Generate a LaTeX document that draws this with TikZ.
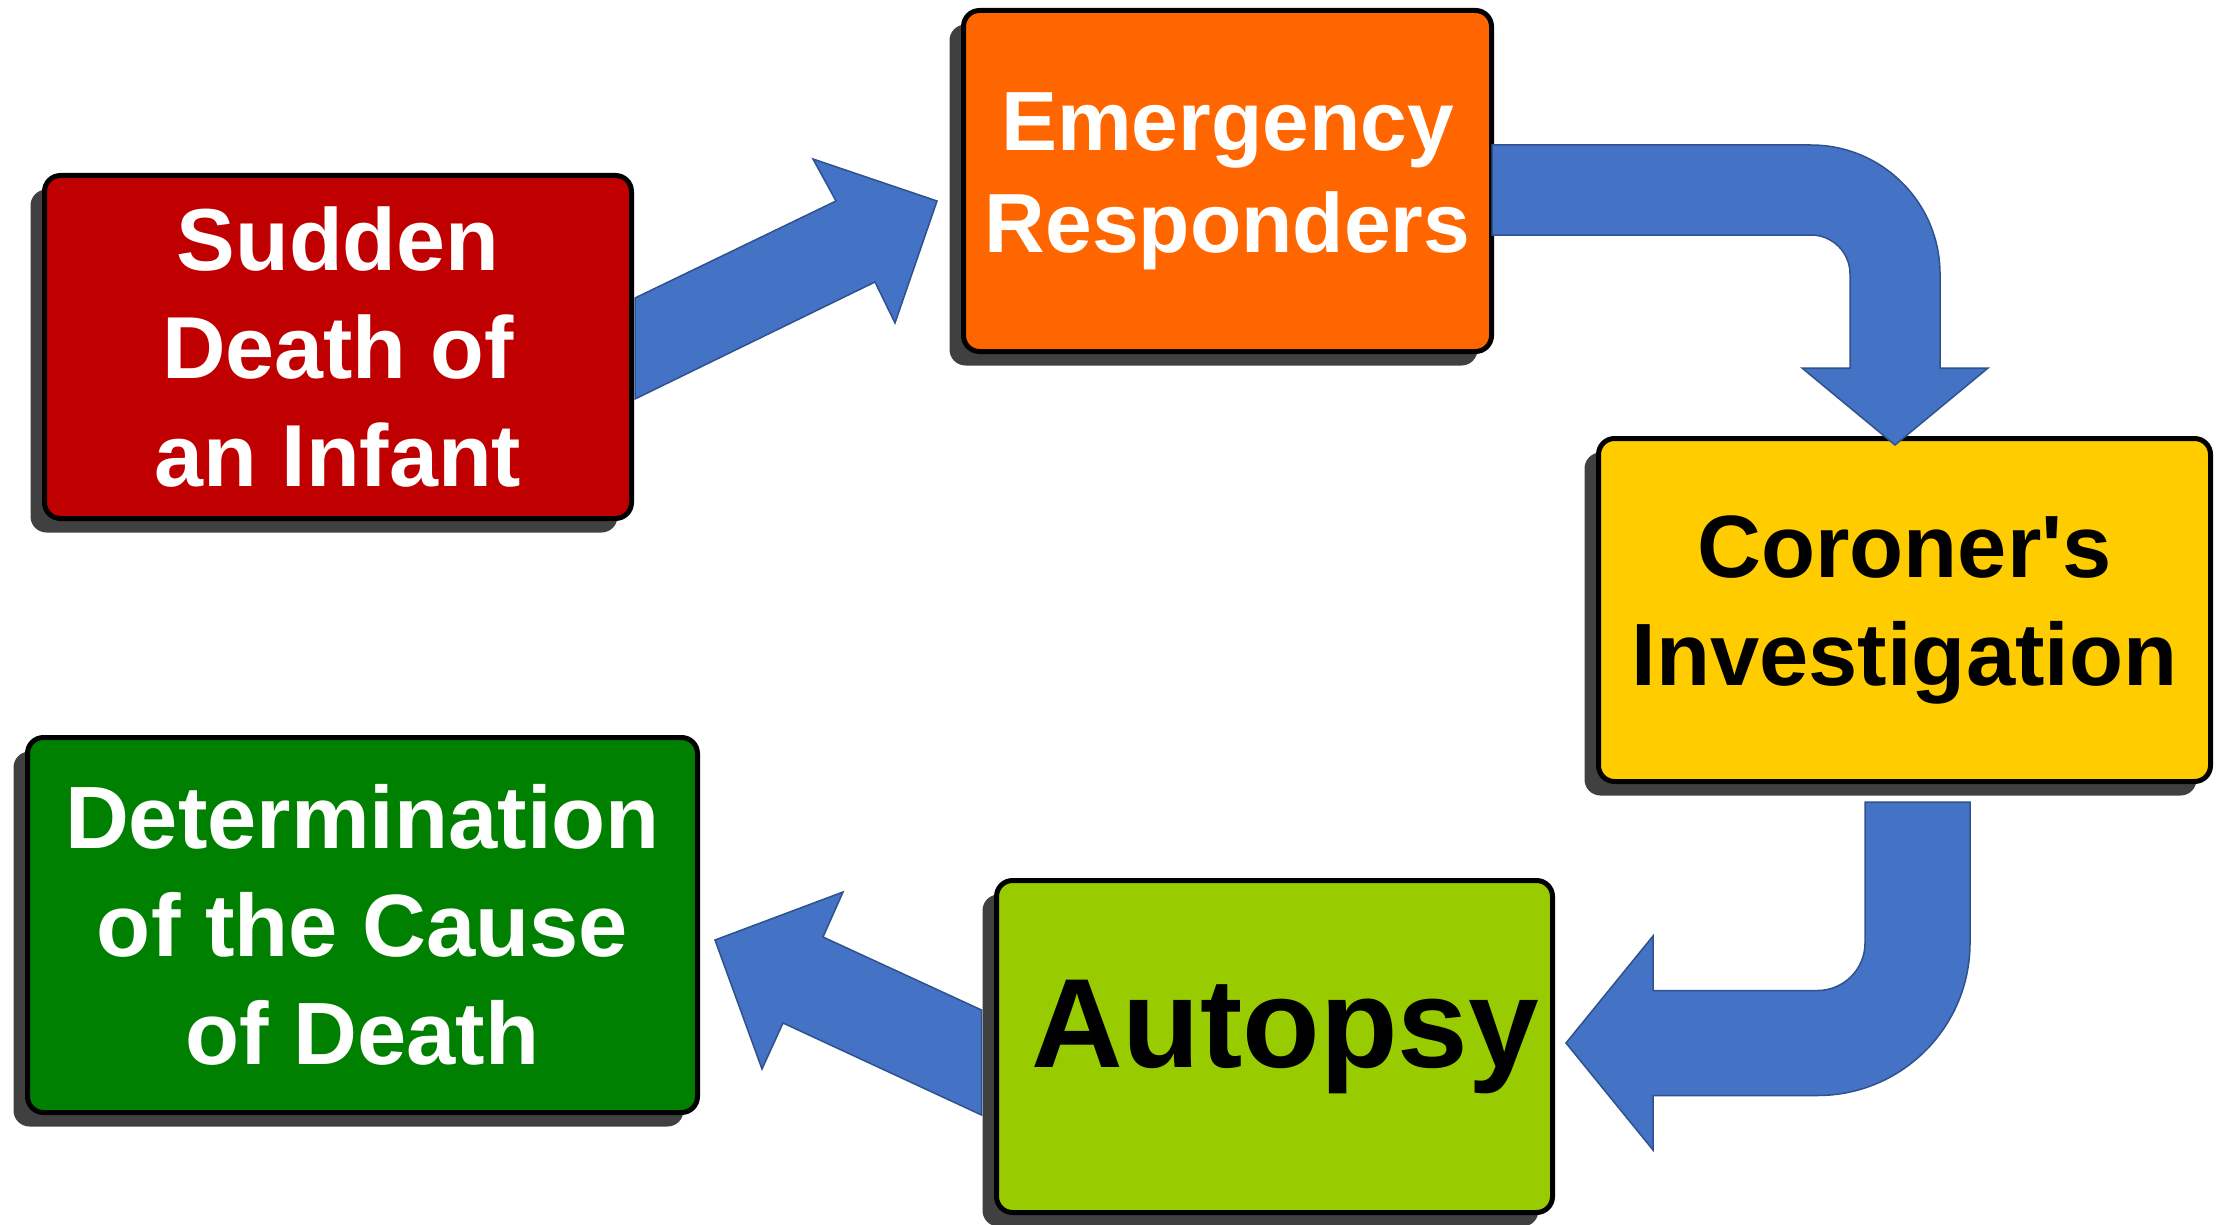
\documentclass[tikz,border=0pt]{standalone}
\usepackage{fontspec}
\setmainfont{Liberation Sans}
\usetikzlibrary{calc,shadows}

\definecolor{boxred}{HTML}{C00000}
\definecolor{boxorange}{HTML}{FF6600}
\definecolor{boxyellow}{HTML}{FFCC00}
\definecolor{boxlime}{HTML}{99CC00}
\definecolor{boxgreen}{HTML}{008000}
\definecolor{shadowgray}{HTML}{404040}
\definecolor{arrowfill}{HTML}{4472C4}
\definecolor{arrowedge}{HTML}{2F528F}

\tikzset{
  stage/.style={draw=black, line width=5pt, rounded corners=16pt, inner sep=0pt,
    align=center,
    drop shadow={shadow xshift=-14pt, shadow yshift=-14pt, fill=shadowgray, opacity=1}},
  blockarrow/.style={fill=arrowfill, draw=arrowedge, line width=1.5pt, line join=miter},
}

\begin{document}
\begin{tikzpicture}[x=1pt,y=-1pt]
\useasboundingbox (0,0) rectangle (2221,1225);

% the five stages
\node[stage, fill=boxred, text=white, minimum width=587pt, minimum height=343pt,
      font=\bfseries\fontsize{88}{108}\selectfont]
  (sudden) at (338,347) {Sudden\\Death of\\an Infant};
\node[stage, fill=boxorange, text=white, minimum width=528pt, minimum height=341pt,
      font=\bfseries\fontsize{84}{102}\selectfont]
  (responders) at (1227.5,181) {Emergency\\Responders};
\node[stage, fill=boxyellow, text=black, minimum width=612pt, minimum height=343pt,
      font=\bfseries\fontsize{88.5}{108}\selectfont]
  (coroner) at (1904.5,610) {Coroner\textquotesingle s\\Investigation};
\node[stage, fill=boxlime, text=black, minimum width=556pt, minimum height=332pt,
      text depth=45pt, font=\bfseries\fontsize{127}{150}\selectfont]
  (autopsy) at (1274.5,1046.5) {\hspace*{21pt}Autopsy};
\node[stage, fill=boxgreen, text=white, minimum width=670pt, minimum height=375pt,
      font=\bfseries\fontsize{88.5}{108}\selectfont]
  (determination) at (362.5,925) {Determination\\of the Cause\\of Death};

% straight arrow: sudden death -> emergency responders
\coordinate (t1) at ($(responders.west)+(-24,20)$);
\filldraw[blockarrow] ($(sudden.east)+(1,-49)$) -- ($(t1)+(-101,0)$)
  -- ($(t1)+(-124,-42)$) -- (t1) -- ($(t1)+(-42,122)$) -- ($(t1)+(-62,81)$)
  -- ($(sudden.east)+(1,52)$) -- cycle;

% bent arrow: emergency responders -> coroner's investigation
\coordinate (r2) at ($(responders.east)+(-2,9)$);
\coordinate (t2) at ($(coroner.north)+(-9.5,9)$);
\coordinate (c2) at (t2 |- r2);
\filldraw[blockarrow] ($(r2)+(0,-45)$) -- ($(c2)+(-84,-45)$)
  .. controls ($(c2)+(-12.8,-45)$) and ($(c2)+(45,12.8)$) .. ($(c2)+(45,84)$)
  -- ($(t2)+(45,-77)$) -- ($(t2)+(93,-77)$) -- (t2) -- ($(t2)+(-93,-77)$)
  -- ($(t2)+(-45,-77)$) -- ($(c2)+(-45,84)$)
  .. controls ($(c2)+(-45,62.5)$) and ($(c2)+(-62.5,45)$) .. ($(c2)+(-84,45)$)
  -- ($(r2)+(0,45)$) -- cycle;

% bent arrow: coroner's investigation -> autopsy
\coordinate (r3) at ($(coroner.south)+(13,18)$);
\coordinate (t3) at ($(autopsy.east)+(11,-3.5)$);
\coordinate (c3) at (r3 |- t3);
\filldraw[blockarrow] ($(r3)+(-52.5,0)$) -- ($(c3)+(-52.5,-100)$)
  .. controls ($(c3)+(-52.5,-73.8)$) and ($(c3)+(-73.8,-52.5)$) .. ($(c3)+(-100,-52.5)$)
  -- ($(t3)+(87,-52.5)$) -- ($(t3)+(87,-107)$) -- (t3) -- ($(t3)+(87,107)$)
  -- ($(t3)+(87,52.5)$) -- ($(c3)+(-100,52.5)$)
  .. controls ($(c3)+(-15.8,52.5)$) and ($(c3)+(52.5,-15.8)$) .. ($(c3)+(52.5,-100)$)
  -- ($(r3)+(52.5,0)$) -- cycle;

% straight arrow: autopsy -> determination of the cause of death
\coordinate (r4) at ($(autopsy.west)+(-12.5,16)$);
\coordinate (t4) at ($(determination.east)+(15,15)$);
\filldraw[blockarrow] ($(r4)+(0,-52.5)$) -- ($(t4)+(108,-3)$)
  -- ($(t4)+(128,-48)$) -- (t4) -- ($(t4)+(47,129)$) -- ($(t4)+(68,83)$)
  -- ($(r4)+(0,52.5)$) -- cycle;
\end{tikzpicture}
\end{document}
